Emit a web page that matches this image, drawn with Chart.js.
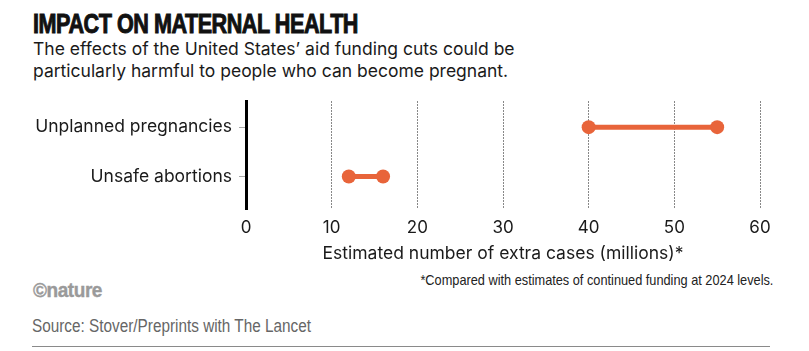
<!DOCTYPE html>
<html>
<head>
<meta charset="utf-8">
<script src="https://cdn.jsdelivr.net/npm/chart.js@4"></script>
<style>
  html, body { margin:0; padding:0; background:#fff; }
  body { width:809px; height:351px; position:relative; overflow:hidden; }
  .t { position:absolute; white-space:nowrap; }
  .fitL { transform-origin: 0 50%; }
  .fitR { transform-origin: 100% 50%; }
  #title { left:33px; top:10px; font-family:"Liberation Sans",Arial,sans-serif; font-weight:bold; font-size:27.5px; line-height:27px; letter-spacing:-0.6px; color:#111; -webkit-text-stroke:1px #111; }
  #subtitle { left:33px; top:38px; font-family:Inter,sans-serif; font-size:17.5px; line-height:21.5px; color:#1a1a1a; }
  #foot { right:36px; top:271px; font-family:"Liberation Sans",Arial,sans-serif; font-size:14.5px; line-height:18px; color:#222; }
  #nature { left:33px; top:279px; font-family:"Liberation Sans",Arial,sans-serif; font-weight:bold; font-size:21px; line-height:22px; color:#9a9a9a; letter-spacing:-0.5px; -webkit-text-stroke:0.4px #9a9a9a; }
  #source { left:32px; top:316px; font-family:"Liberation Sans",Arial,sans-serif; font-size:17.5px; line-height:20px; color:#666; }
  #rule { position:absolute; left:32px; top:346px; width:738px; height:1px; background:#8a8a8a; }
  #wrap { position:absolute; left:0; top:84px; width:809px; height:186px; }
</style>
</head>
<body>
<div id="title" class="t fitL" data-w="325">IMPACT ON MATERNAL HEALTH</div>
<div id="subtitle" class="t">The effects of the United States’ aid funding cuts could be<br>particularly harmful to people who can become pregnant.</div>
<div id="wrap"><canvas id="c"></canvas></div>
<div id="foot" class="t fitR" data-w="353">*Compared with estimates of continued funding at 2024 levels.</div>
<div id="nature" class="t fitL" data-w="69">©nature</div>
<div id="source" class="t fitL" data-w="279">Source: Stover/Preprints with The Lancet</div>
<div id="rule"></div>
<script>
const categories = ['Unplanned pregnancies', 'Unsafe abortions'];
const lowValues = [40, 12];
const highValues = [55, 16];
const xTickValues = [0, 10, 20, 30, 40, 50, 60];
const axisTitle = 'Estimated number of extra cases (millions)*';

const ORANGE = '#e8643a';
const FONT = 'Inter, sans-serif';

function fitTexts() {
  document.querySelectorAll('[data-w]').forEach(el => {
    el.style.transform = 'none';
    const w = el.getBoundingClientRect().width;
    const target = parseFloat(el.dataset.w);
    if (w > 0) el.style.transform = 'scaleX(' + (target / w) + ')';
  });
}
fitTexts();
if (document.fonts && document.fonts.ready) document.fonts.ready.then(fitTexts);

const datasets = categories.map((c, i) => ({
  label: c,
  data: [{x: lowValues[i], y: i}, {x: highValues[i], y: i}],
  showLine: true,
  borderColor: ORANGE,
  backgroundColor: ORANGE,
  borderWidth: 5,
  pointRadius: 7,
  pointHoverRadius: 7,
  pointBorderWidth: 0,
  clip: false
}));

new Chart(document.getElementById('c'), {
  type: 'scatter',
  data: { datasets },
  options: {
    responsive: true,
    maintainAspectRatio: false,
    animation: false,
    layout: { padding: { left: 0, right: 49, top: 10, bottom: 0 } },
    plugins: { legend: { display: false }, tooltip: { enabled: false } },
    scales: {
      x: {
        type: 'linear',
        min: 0, max: 60,
        afterBuildTicks: s => { s.ticks = xTickValues.map(v => ({value: v})); },
        afterFit: s => { s.height = 61; },
        ticks: { font: { family: FONT, size: 17 }, color: '#1a1a1a', padding: 9, maxRotation: 0 },
        grid: {
          drawTicks: false,
          lineWidth: 1,
          color: ctx => (ctx.tick && ctx.tick.value === 0) ? 'rgba(0,0,0,0)' : '#111'
        },
        border: { display: false, dash: [1, 2] },
        title: { display: true, text: axisTitle, font: { family: FONT, size: 17.5 }, color: '#1a1a1a', padding: { top: 0, bottom: 6 } }
      },
      y: {
        type: 'linear',
        reverse: true,
        min: -0.52, max: 1.66,
        afterBuildTicks: s => { s.ticks = categories.map((c, i) => ({value: i})); },
        afterFit: s => { s.width = 246; },
        ticks: { callback: v => categories[v], font: { family: FONT, size: 17.5 }, color: '#1a1a1a', padding: 7 },
        grid: { drawOnChartArea: false, drawTicks: true, tickLength: 7, tickColor: '#aaa', tickWidth: 1 },
        border: { display: true, color: '#000', width: 3 }
      }
    }
  }
});
</script>
</body>
</html>
